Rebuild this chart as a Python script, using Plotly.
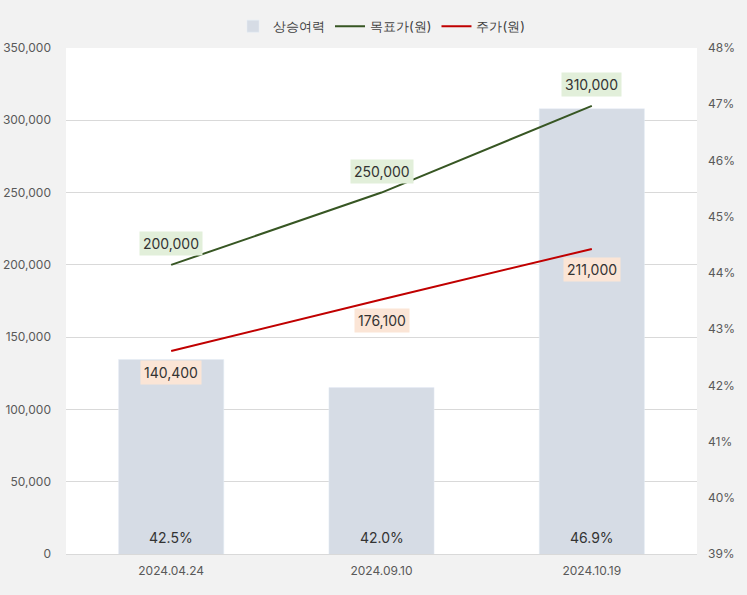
import plotly.graph_objects as go

dates = ["2024.04.24", "2024.09.10", "2024.10.19"]
upside = [0.4246, 0.4196, 0.4692]
target = [200000, 250000, 310000]
price = [140400, 176100, 211000]

FONT = "Inter"
VAL_RANGE = [0, 350000]
PCT_RANGE = [0.39, 0.48]

fig = go.Figure()
fig.add_trace(go.Bar(
    x=dates, y=upside, name="상승여력", yaxis="y", marker_color="#d6dce5",
    width=0.5, hoverinfo="skip",
))
fig.add_trace(go.Scatter(x=dates, y=target, name="목표가(원)", mode="lines", yaxis="y2",
                         line=dict(color="#375623", width=2)))
fig.add_trace(go.Scatter(x=dates, y=price, name="주가(원)", mode="lines", yaxis="y2",
                         line=dict(color="#c00000", width=2)))

annotations = []
for d, v in zip(dates, upside):
    annotations.append(dict(x=d, y=PCT_RANGE[0], xref="x", yref="y", text=f"{v*100:.1f}%",
                            showarrow=False, yanchor="bottom", yshift=6,
                            font=dict(size=14, color="#333333", family=FONT)))
for d, v in zip(dates, target):
    annotations.append(dict(x=d, y=v, xref="x", yref="y2", text=f"{v:,}", showarrow=False,
                            yshift=21, bgcolor="#e2efda", borderpad=3,
                            font=dict(size=14, color="#333333", family=FONT)))
for d, v in zip(dates, price):
    annotations.append(dict(x=d, y=v, xref="x", yref="y2", text=f"{v:,}", showarrow=False,
                            yshift=-21, bgcolor="#fbe5d6", borderpad=3,
                            font=dict(size=14, color="#333333", family=FONT)))

fig.update_layout(
    width=747, height=595,
    paper_bgcolor="#f2f2f2", plot_bgcolor="#ffffff",
    margin=dict(l=66, r=50, t=48, b=41, autoexpand=False),
    font=dict(family=FONT, color="#595959", size=12),
    barmode="overlay",
    legend=dict(orientation="h", x=0.5, xanchor="center", yref="container", y=0.956,
                yanchor="middle", font=dict(size=13, color="#404040"),
                bgcolor="rgba(0,0,0,0)"),
    xaxis=dict(showgrid=False, showline=True, linecolor="#d9d9d9", ticks="",
               automargin=False, ticklabelstandoff=6,
               tickfont=dict(size=12, color="#595959")),
    yaxis=dict(range=PCT_RANGE, dtick=0.01, tickformat=".0%", side="right",
               showgrid=False, zeroline=False, ticks="", ticklabelstandoff=10,
               automargin=False),
    yaxis2=dict(range=VAL_RANGE, dtick=50000, tickformat=",", overlaying="y", side="left",
                showgrid=True, gridcolor="#d9d9d9", zeroline=False, ticks="",
                ticklabelstandoff=14, automargin=False),
    annotations=annotations,
)
fig.write_html("out.html", config={"displayModeBar": False},
               post_script="document.body.style.margin='0';")
